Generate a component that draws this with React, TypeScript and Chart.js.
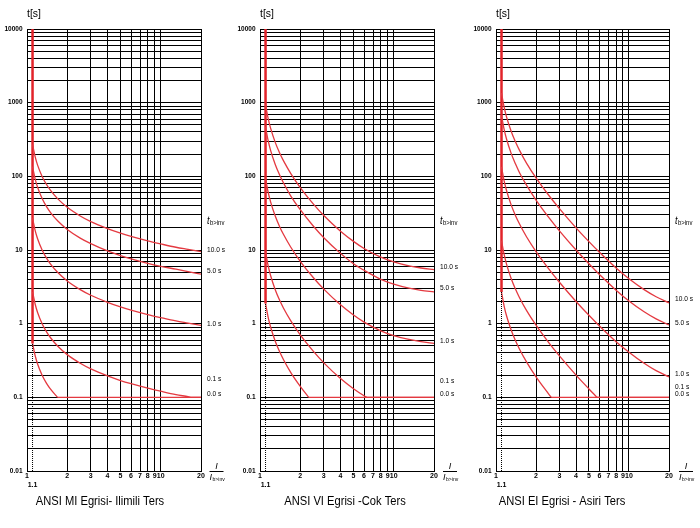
import React, { useEffect, useRef } from "react";
import { Chart, registerables } from "chart.js";

Chart.register(...registerables);

const NARROW =
  "'Liberation Sans Narrow', 'Arial Narrow', 'Liberation Sans', Arial, sans-serif";
const RED = "#e2232a";
const CURVE_RED = "#e43940";

// axis values
const X_TICKS = [1, 1.1, 2, 3, 4, 5, 6, 7, 8, 9, 10, 20];
const Y_DECADES = [0.01, 0.1, 1, 10, 100, 1000];
const Y_MULT = [1, 2, 3, 4, 5, 6, 7, 8, 9];
const Y_MIN = 0.01;
const Y_MAX = 10000;
const X_MIN = 1;
const X_MAX = 20;
const PICKUP = 1.1;
const T_FLOOR = 0.1;
const CURVE_LABELS = ["10.0 s", "5.0 s", "1.0 s", "0.1 s", "0.0 s"];

// I / Ib>inv samples
const M_SAMPLES = [1.1, 1.15, 1.2, 1.3, 1.4, 1.5, 1.7, 2, 2.5, 3, 4, 5, 6, 8, 10, 13, 16, 20];

// ANSI MI (moderately inverse)
const MI_T10 = [271, 185, 142, 99, 77.4, 64.4, 49.4, 38.0, 29.0, 24.3, 19.5, 16.9, 15.3, 13.3, 12.1, 10.9, 10.2, 9.5];
const MI_T5 = [135, 92.5, 71, 49.5, 38.7, 32.2, 24.7, 19.0, 14.5, 12.2, 9.7, 8.4, 7.6, 6.6, 6.0, 5.5, 5.1, 4.7];
const MI_T1 = [27.1, 18.5, 14.2, 9.9, 7.74, 6.44, 4.94, 3.8, 2.9, 2.43, 1.95, 1.69, 1.53, 1.33, 1.21, 1.09, 1.02, 0.95];
const MI_M01 = [1.1, 1.15, 1.2, 1.3, 1.4, 1.5, 1.7, 2, 2.5, 3, 4, 5, 6, 8, 10, 13, 16, 16.9];
const MI_T01 = [2.71, 1.85, 1.42, 0.99, 0.774, 0.644, 0.494, 0.38, 0.29, 0.243, 0.195, 0.169, 0.153, 0.133, 0.121, 0.109, 0.102, 0.1];
const MI_M00 = [1.1, 1.15, 1.2, 1.3, 1.4, 1.5, 1.69];
const MI_T00 = [0.54, 0.37, 0.284, 0.198, 0.155, 0.129, 0.1];

// ANSI VI (very inverse)
const VI_T10 = [939, 613, 451, 289, 209, 162, 109, 70.3, 42.3, 29.4, 18.0, 13.1, 10.5, 8.0, 6.9, 6.1, 5.7, 5.4];
const VI_T5 = [469, 307, 225, 145, 105, 81, 54, 35.2, 21.2, 14.7, 9.0, 6.5, 5.3, 4.0, 3.45, 3.04, 2.84, 2.7];
const VI_T1 = [93.9, 61.3, 45.1, 28.9, 20.9, 16.2, 10.9, 7.03, 4.23, 2.94, 1.8, 1.31, 1.05, 0.8, 0.69, 0.61, 0.57, 0.54];
const VI_M01 = [1.1, 1.15, 1.2, 1.3, 1.4, 1.5, 1.7, 2, 2.5, 3, 4, 5, 6, 6.28];
const VI_T01 = [9.39, 6.13, 4.51, 2.89, 2.09, 1.62, 1.09, 0.703, 0.423, 0.294, 0.18, 0.131, 0.105, 0.1];
const VI_M00 = [1.1, 1.15, 1.2, 1.3, 1.4, 1.5, 1.7, 2, 2.31];
const VI_T00 = [1.88, 1.23, 0.9, 0.578, 0.418, 0.324, 0.217, 0.141, 0.1];

// ANSI EI (extremely inverse)
const EI_T10 = [1344, 876, 642, 410, 295, 227, 150, 95.2, 54.9, 36.5, 20.0, 13.0, 9.3, 5.7, 4.07, 2.9, 2.32, 1.92];
const EI_T5 = [672, 438, 321, 205, 148, 113, 75.2, 47.6, 27.5, 18.2, 10.0, 6.5, 4.64, 2.85, 2.03, 1.45, 1.16, 0.96];
const EI_T1 = [134, 87.6, 64.2, 41.0, 29.5, 22.7, 15.0, 9.52, 5.49, 3.65, 2.0, 1.3, 0.93, 0.57, 0.41, 0.29, 0.23, 0.19];
const EI_M01 = [1.1, 1.15, 1.2, 1.3, 1.4, 1.5, 1.7, 2, 2.5, 3, 4, 5, 5.75];
const EI_T01 = [13.4, 8.76, 6.42, 4.1, 2.95, 2.27, 1.5, 0.952, 0.549, 0.365, 0.2, 0.13, 0.1];
const EI_M00 = [1.1, 1.15, 1.2, 1.3, 1.4, 1.5, 1.7, 2, 2.5, 2.6];
const EI_T00 = [2.69, 1.75, 1.28, 0.82, 0.59, 0.454, 0.301, 0.19, 0.11, 0.1];

type Curve = { m: number[]; t: number[] };
type Panel = {
  left: number;
  width: number;
  plotLeft: number;
  plotRight: number;
  title: string;
  titleX: number;
  labelX: number;
  labelYs: number[];
  fracX: number;
  curves: Curve[];
};

const PANELS: Panel[] = [
  {
    left: 0,
    width: 233,
    plotLeft: 27,
    plotRight: 201,
    title: "ANSI MI Egrisi- Ilimili Ters",
    titleX: 100,
    labelX: 207,
    labelYs: [250, 271, 324, 379, 394],
    fracX: 216.5,
    curves: [
      { m: M_SAMPLES, t: MI_T10 },
      { m: M_SAMPLES, t: MI_T5 },
      { m: M_SAMPLES, t: MI_T1 },
      { m: MI_M01, t: MI_T01 },
      { m: MI_M00, t: MI_T00 },
    ],
  },
  {
    left: 233,
    width: 233,
    plotLeft: 260,
    plotRight: 434,
    title: "ANSI VI Egrisi -Cok Ters",
    titleX: 345,
    labelX: 440,
    labelYs: [267, 288, 341, 381, 394],
    fracX: 450,
    curves: [
      { m: M_SAMPLES, t: VI_T10 },
      { m: M_SAMPLES, t: VI_T5 },
      { m: M_SAMPLES, t: VI_T1 },
      { m: VI_M01, t: VI_T01 },
      { m: VI_M00, t: VI_T00 },
    ],
  },
  {
    left: 466,
    width: 234,
    plotLeft: 496,
    plotRight: 669,
    title: "ANSI EI Egrisi - Asiri Ters",
    titleX: 562,
    labelX: 675,
    labelYs: [299, 323, 374, 386.5, 393.5],
    fracX: 686,
    curves: [
      { m: M_SAMPLES, t: EI_T10 },
      { m: M_SAMPLES, t: EI_T5 },
      { m: M_SAMPLES, t: EI_T1 },
      { m: EI_M01, t: EI_T01 },
      { m: EI_M00, t: EI_T00 },
    ],
  },
];

const PLOT_TOP = 29;
const PLOT_BOTTOM = 471;
const H = 528;

function yGrid(): number[] {
  const out: number[] = [];
  Y_DECADES.forEach((d) => Y_MULT.forEach((k) => out.push(Number((d * k).toPrecision(3)))));
  out.push(Y_MAX);
  return out;
}

function isDecade(v: number) {
  const l = Math.log10(v);
  return Math.abs(l - Math.round(l)) < 1e-9;
}

// draws text horizontally condensed (narrow typeface look)
function narrowText(
  ctx: CanvasRenderingContext2D,
  s: string,
  x: number,
  y: number,
  sx: number
) {
  ctx.save();
  ctx.translate(x, y);
  ctx.scale(sx, 1);
  ctx.fillText(s, 0, 0);
  ctx.restore();
}

function PanelChart({ p }: { p: Panel }) {
  const ref = useRef<HTMLCanvasElement | null>(null);
  useEffect(() => {
    const canvas = ref.current;
    if (!canvas) return;
    const datasets: any[] = [];
    const lowest = Math.min(...p.curves.map((c) => c.t[0]));
    datasets.push({
      data: [
        { x: PICKUP, y: Y_MIN },
        { x: PICKUP, y: lowest },
      ],
      borderColor: "#000",
      borderWidth: 1,
      borderDash: [1, 1],
      pointRadius: 0,
      tension: 0,
    });
    p.curves.forEach((c) => {
      datasets.push({
        data: c.m.map((m, i) => ({ x: m, y: c.t[i] })),
        borderColor: CURVE_RED,
        borderWidth: 1.3,
        pointRadius: 0,
        cubicInterpolationMode: "monotone",
        tension: 0.4,
      });
      const lastM = c.m[c.m.length - 1];
      if (lastM < X_MAX) {
        datasets.push({
          data: [
            { x: lastM, y: T_FLOOR },
            { x: X_MAX, y: T_FLOOR },
          ],
          borderColor: CURVE_RED,
          borderWidth: 1.3,
          pointRadius: 0,
          tension: 0,
        });
      }
    });
    datasets.push({
      data: [
        { x: PICKUP, y: Y_MAX },
        { x: PICKUP, y: lowest },
      ],
      borderColor: RED,
      borderWidth: 2.5,
      pointRadius: 0,
      tension: 0,
    });

    const ox = p.left;
    const textPlugin = {
      id: "panelText" + p.left,
      afterDraw(chart: any) {
        const ctx = chart.ctx as CanvasRenderingContext2D;
        ctx.save();
        ctx.fillStyle = "#000";
        ctx.strokeStyle = "#000";
        ctx.textBaseline = "middle";
        ctx.textAlign = "left";
        ctx.font = `11px ${NARROW}`;
        narrowText(ctx, "t[s]", p.plotLeft - ox, 14, 0.95);
        // t b>inv
        const tx = p.labelX - ox;
        ctx.font = `italic 10px ${NARROW}`;
        narrowText(ctx, "t", tx, 221, 0.9);
        const tw = ctx.measureText("t").width * 0.9;
        ctx.font = `7px ${NARROW}`;
        narrowText(ctx, "b>inv", tx + tw + 0.5, 223.5, 0.85);
        // curve labels
        ctx.font = `7.5px ${NARROW}`;
        CURVE_LABELS.forEach((s, i) => narrowText(ctx, s, tx, p.labelYs[i], 0.88));
        // fraction I / I>inv
        const fx = p.fracX - ox;
        ctx.textAlign = "center";
        ctx.font = `italic 9px ${NARROW}`;
        ctx.fillText("I", fx, 466);
        ctx.beginPath();
        ctx.lineWidth = 1;
        ctx.moveTo(fx - 7, 471.5);
        ctx.lineTo(fx + 7, 471.5);
        ctx.stroke();
        ctx.textAlign = "left";
        ctx.font = `italic 9px ${NARROW}`;
        const iw = ctx.measureText("I").width;
        ctx.fillText("I", fx - 7, 477.5);
        ctx.font = `6px ${NARROW}`;
        narrowText(ctx, "b>inv", fx - 7 + iw + 0.5, 479, 0.85);
        // title
        ctx.textAlign = "center";
        ctx.font = `12px ${NARROW}`;
        narrowText(ctx, p.title, p.titleX - ox, 502, 0.93);
        ctx.restore();
      },
    };

    const yTicks = yGrid();
    const chart = new Chart(canvas, {
      type: "line",
      data: { datasets },
      plugins: [textPlugin],
      options: {
        animation: false,
        responsive: false,
        maintainAspectRatio: false,
        layout: {
          padding: { left: 0, right: p.left + p.width - p.plotRight, top: PLOT_TOP, bottom: 0 },
        },
        plugins: { legend: { display: false }, tooltip: { enabled: false }, title: { display: false } },
        scales: {
          x: {
            type: "logarithmic",
            min: X_MIN,
            max: X_MAX,
            afterBuildTicks: (axis: any) => {
              axis.ticks = X_TICKS.map((v) => ({ value: v }));
            },
            afterFit: (axis: any) => {
              axis.height = H - PLOT_BOTTOM;
            },
            grid: {
              color: (c: any) => (c.tick && c.tick.value === PICKUP ? "rgba(0,0,0,0)" : "#000"),
              lineWidth: 1,
              drawTicks: false,
            },
            border: { color: "#000", width: 1 },
            ticks: {
              autoSkip: false,
              maxRotation: 0,
              minRotation: 0,
              padding: 1,
              color: "#000",
              font: { family: NARROW, size: 7, weight: "bold" },
              callback: (v: any) => (v === PICKUP ? ["", "1.1"] : String(v)),
            },
          },
          y: {
            type: "logarithmic",
            min: Y_MIN,
            max: Y_MAX,
            afterBuildTicks: (axis: any) => {
              axis.ticks = yTicks.map((v) => ({ value: v }));
            },
            afterFit: (axis: any) => {
              axis.width = p.plotLeft - p.left;
            },
            grid: { color: "#000", lineWidth: 1, drawTicks: false },
            border: { color: "#000", width: 1 },
            ticks: {
              autoSkip: false,
              padding: 4.5,
              color: "#000",
              font: { family: NARROW, size: 6.5, weight: "bold" },
              callback: (v: any) => (isDecade(Number(v)) ? String(v) : ""),
            },
          },
        },
      } as any,
    });
    return () => chart.destroy();
  }, [p]);
  return (
    <canvas
      ref={ref}
      width={p.width}
      height={H}
      style={{ position: "absolute", left: p.left, top: 0, width: p.width, height: H }}
    />
  );
}

export default function App() {
  return (
    <div
      style={{
        position: "fixed",
        left: 0,
        top: 0,
        width: 700,
        height: H,
        background: "#fff",
        overflow: "hidden",
      }}
    >
      {PANELS.map((p) => (
        <PanelChart key={p.left} p={p} />
      ))}
    </div>
  );
}
